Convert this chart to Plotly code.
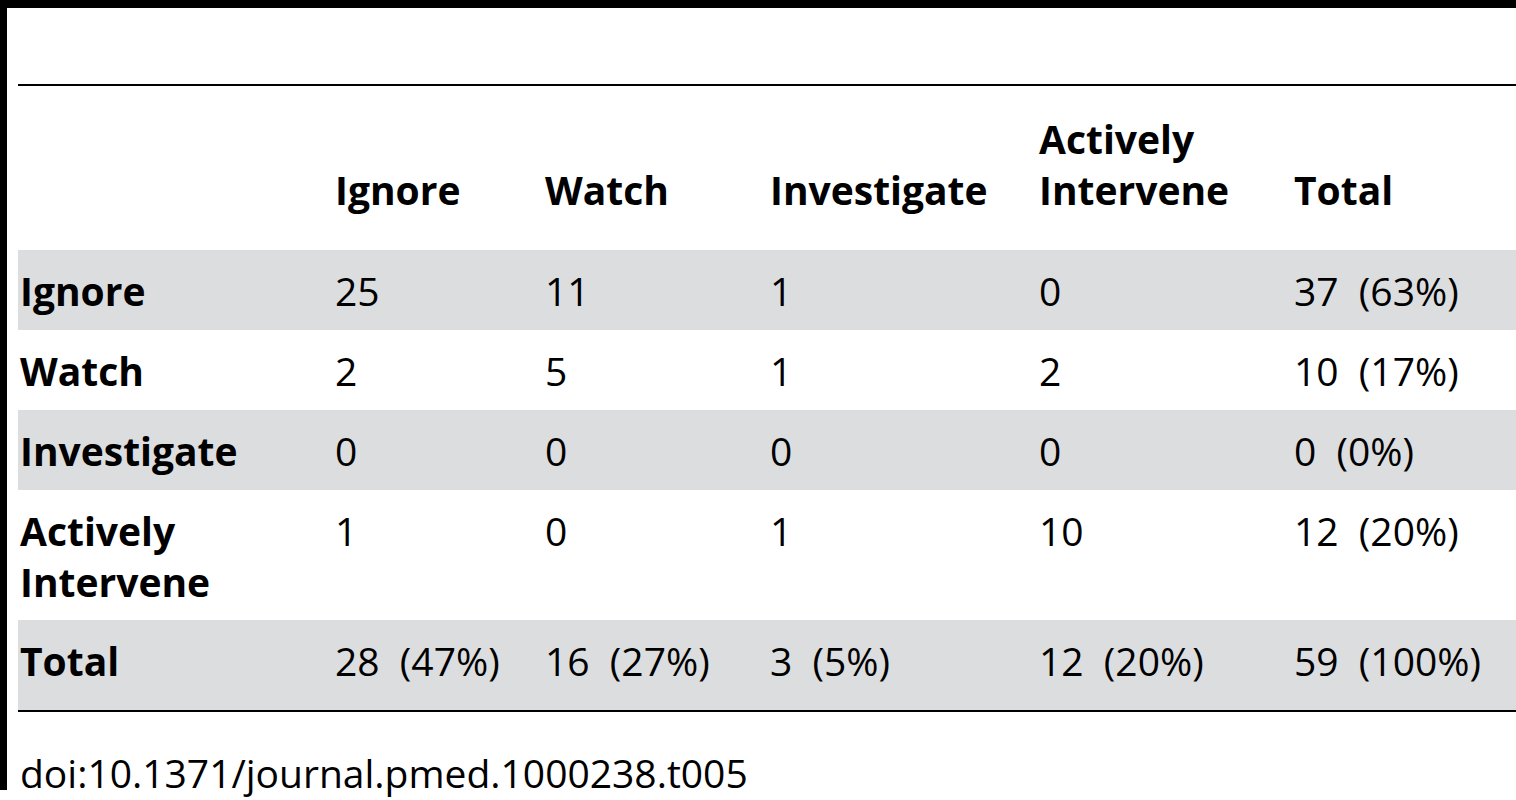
import plotly.graph_objects as go

col_headers = ["Ignore", "Watch", "Investigate", "Actively<br>Intervene", "Total"]
row_labels = ["Ignore", "Watch", "Investigate", "Actively<br>Intervene", "Total"]
cells = [
    ["25", "11", "1", "0", "37  (63%)"],
    ["2", "5", "1", "2", "10  (17%)"],
    ["0", "0", "0", "0", "0  (0%)"],
    ["1", "0", "1", "10", "12  (20%)"],
    ["28  (47%)", "16  (27%)", "3  (5%)", "12  (20%)", "59  (100%)"],
]
footer = "doi:10.1371/journal.pmed.1000238.t005"

W, H = 1516, 800
col_x = [18, 333, 543, 768, 1037, 1292]
row_tops = [250, 330, 410, 490, 620, 710]
gray = "#dcdddf"
font = "Open Sans"
fs = 39

fig = go.Figure()
shapes = [
    dict(type="rect", x0=0, x1=W, y0=0, y1=8, fillcolor="black", line_width=0),
    dict(type="rect", x0=0, x1=7, y0=0, y1=790, fillcolor="black", line_width=0),
    dict(type="line", x0=18, x1=W, y0=85, y1=85, line=dict(color="black", width=2)),
    dict(type="line", x0=18, x1=W, y0=711, y1=711, line=dict(color="black", width=2)),
]
for i in range(len(row_labels)):
    if i % 2 == 0:
        shapes.append(dict(type="rect", x0=18, x1=W, y0=row_tops[i], y1=row_tops[i + 1],
                           fillcolor=gray, line_width=0, layer="below"))

ann = []
for j, h in enumerate(col_headers):
    ann.append(dict(x=col_x[j + 1], y=218, text=f"<b>{h}</b>", xanchor="left", yanchor="bottom",
                    align="left", showarrow=False, font=dict(size=fs, family=font, color="black")))
for i, lab in enumerate(row_labels):
    y = row_tops[i] + 12
    ann.append(dict(x=col_x[0], y=y, text=f"<b>{lab}</b>", xanchor="left", yanchor="top",
                    align="left", showarrow=False, font=dict(size=fs, family=font, color="black")))
    for j, v in enumerate(cells[i]):
        ann.append(dict(x=col_x[j + 1], y=y, text=v, xanchor="left", yanchor="top",
                        showarrow=False, font=dict(size=fs, family=font, color="black")))
ann.append(dict(x=18, y=772, text=footer, xanchor="left", yanchor="middle", showarrow=False,
                font=dict(size=fs, family=font, color="black")))

fig.update_layout(
    width=W, height=H, margin=dict(l=0, r=0, t=0, b=0),
    plot_bgcolor="white", paper_bgcolor="white",
    xaxis=dict(range=[0, W], visible=False, fixedrange=True),
    yaxis=dict(range=[H, 0], visible=False, fixedrange=True),
    shapes=shapes, annotations=ann, showlegend=False,
)
fig.write_html("out.html", config={"displayModeBar": False},
               post_script="document.body.style.margin='0';document.body.style.overflow='hidden';")
